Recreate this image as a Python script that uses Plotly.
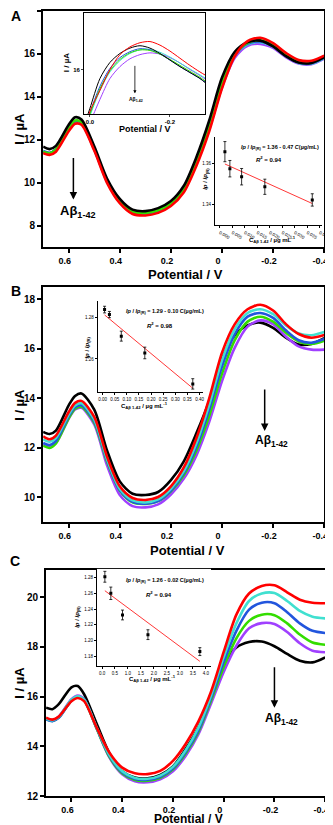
import plotly.graph_objects as go

# potentials (V) for the voltammograms
potential = [0.70, 0.675, 0.65, 0.60, 0.575, 0.55, 0.50, 0.45, 0.40, 0.35, 0.30, 0.25, 0.20,
             0.15, 0.10, 0.05, 0.00, -0.05, -0.10, -0.15, -0.20, -0.25, -0.30, -0.35, -0.40]

# panel A currents (uA)
a_black = [11.68, 11.57, 11.72, 12.7, 13.05, 12.95, 11.7, 10.2, 9.25, 8.75, 8.68, 8.82, 9.15,
           9.85, 11.2, 12.9, 14.9, 16.1, 16.55, 16.62, 16.35, 15.9, 15.6, 15.58, 15.85]
a_red = [11.38, 11.3, 11.45, 12.4, 12.75, 12.7, 11.5, 10.0, 9.05, 8.55, 8.48, 8.6, 8.92,
         9.55, 10.8, 12.4, 14.4, 15.9, 16.6, 16.75, 16.5, 16.05, 15.72, 15.68, 15.92]
a_green = [11.45, 11.38, 11.55, 12.55, 12.9, 12.83, 11.6, 10.12, 9.17, 8.65, 8.6, 8.72, 9.05,
           9.72, 11.0, 12.65, 14.65, 15.98, 16.52, 16.63, 16.4, 15.95, 15.63, 15.6, 15.86]
a_blue = [11.48, 11.4, 11.57, 12.52, 12.86, 12.8, 11.58, 10.1, 9.15, 8.63, 8.58, 8.7, 9.03,
          9.7, 10.98, 12.6, 14.6, 15.95, 16.48, 16.58, 16.36, 15.92, 15.6, 15.57, 15.83]
a_cyan = [11.46, 11.38, 11.55, 12.5, 12.84, 12.78, 11.56, 10.08, 9.13, 8.61, 8.56, 8.68, 9.01,
          9.68, 10.95, 12.56, 14.55, 15.92, 16.45, 16.55, 16.34, 15.9, 15.58, 15.55, 15.81]
a_purple = [11.42, 11.35, 11.5, 12.48, 12.82, 12.76, 11.55, 10.05, 9.1, 8.58, 8.53, 8.65, 8.97,
            9.62, 10.9, 12.5, 14.45, 15.82, 16.38, 16.47, 16.28, 15.85, 15.55, 15.52, 15.78]

# panel A zoomed inset
inset_potential = [0.01, 0.0, -0.025, -0.05, -0.075, -0.10, -0.125, -0.15, -0.175, -0.20,
                   -0.225, -0.25, -0.275, -0.29]
ia_black = [15.15, 15.35, 15.85, 16.12, 16.27, 16.36, 16.4, 16.36, 16.27, 16.16, 16.05, 15.95, 15.85, 15.77]
ia_red = [15.05, 15.3, 15.65, 16.0, 16.25, 16.38, 16.45, 16.47, 16.41, 16.31, 16.19, 16.07, 15.96, 15.9]
ia_green = [15.05, 15.25, 15.68, 15.98, 16.17, 16.28, 16.33, 16.32, 16.26, 16.17, 16.07, 15.97, 15.87, 15.8]
ia_blue = [15.08, 15.28, 15.72, 16.02, 16.2, 16.3, 16.35, 16.33, 16.26, 16.16, 16.05, 15.95, 15.85, 15.78]
ia_cyan = [15.02, 15.22, 15.65, 15.96, 16.15, 16.27, 16.33, 16.34, 16.29, 16.21, 16.11, 16.01, 15.91, 15.85]
ia_purple = [14.9, 15.1, 15.5, 15.85, 16.05, 16.18, 16.25, 16.28, 16.26, 16.2, 16.11, 16.0, 15.9, 15.83]

# panel B currents (uA)
b_black = [12.65, 12.56, 12.7, 13.72, 14.1, 14.2, 13.55, 11.9, 10.65, 10.15, 10.1, 10.22, 10.7,
           11.45, 12.6, 13.9, 15.6, 16.55, 16.95, 17.06, 16.85, 16.45, 16.18, 16.2, 16.43]
b_red = [12.47, 12.35, 12.5, 13.45, 13.82, 13.9, 13.25, 11.65, 10.45, 9.98, 9.9, 10.02, 10.45,
         11.2, 12.4, 14.0, 15.85, 17.0, 17.6, 17.78, 17.55, 17.0, 16.6, 16.45, 16.56]
b_cyan = [12.35, 12.25, 12.4, 13.35, 13.72, 13.8, 13.15, 11.55, 10.35, 9.88, 9.8, 9.92, 10.35,
          11.05, 12.2, 13.75, 15.55, 16.8, 17.45, 17.6, 17.4, 16.95, 16.62, 16.55, 16.68]
b_blue = [12.2, 12.12, 12.28, 13.28, 13.65, 13.72, 13.08, 11.5, 10.3, 9.82, 9.75, 9.86, 10.28,
          10.98, 12.05, 13.55, 15.3, 16.6, 17.3, 17.45, 17.25, 16.75, 16.35, 16.25, 16.4]
b_green = [12.09, 12.0, 12.18, 13.2, 13.58, 13.66, 13.02, 11.45, 10.28, 9.8, 9.74, 9.85, 10.25,
           10.9, 11.9, 13.3, 15.0, 16.35, 17.1, 17.3, 17.1, 16.65, 16.3, 16.2, 16.33]
b_purple = [12.15, 12.05, 12.2, 13.18, 13.55, 13.62, 12.95, 11.3, 10.1, 9.65, 9.6, 9.72, 10.12,
            10.75, 11.7, 13.05, 14.7, 16.05, 16.9, 17.15, 17.0, 16.5, 16.1, 15.97, 15.97]

# panel C currents (uA)
c_black = [15.56, 15.5, 15.7, 16.38, 16.43, 16.1, 14.9, 13.72, 13.0, 12.75, 12.72, 12.86, 13.2,
           13.9, 14.76, 16.05, 17.3, 17.98, 18.2, 18.22, 18.03, 17.72, 17.45, 17.38, 17.58]
c_red = [15.16, 15.08, 15.2, 15.82, 15.95, 15.82, 14.75, 13.75, 13.15, 12.92, 12.89, 13.02, 13.42,
         14.1, 15.0, 16.2, 17.8, 19.3, 20.15, 20.45, 20.48, 20.2, 19.9, 19.78, 19.76]
c_cyan = [15.12, 15.05, 15.18, 15.88, 16.02, 15.88, 14.75, 13.65, 13.0, 12.73, 12.7, 12.83, 13.18,
          13.85, 14.75, 16.05, 17.6, 18.95, 19.85, 20.15, 20.17, 19.85, 19.45, 19.22, 19.15]
c_blue = [15.09, 15.02, 15.15, 15.85, 16.0, 15.86, 14.72, 13.62, 12.96, 12.69, 12.66, 12.78, 13.12,
          13.78, 14.65, 15.95, 17.4, 18.65, 19.5, 19.78, 19.76, 19.4, 18.95, 18.65, 18.56]
c_green = [15.1, 15.03, 15.16, 15.86, 16.0, 15.86, 14.7, 13.58, 12.92, 12.65, 12.62, 12.74, 13.08,
           13.72, 14.58, 15.85, 17.2, 18.35, 19.05, 19.3, 19.28, 18.95, 18.5, 18.18, 18.09]
c_purple = [15.12, 15.06, 15.2, 15.9, 16.05, 15.9, 14.72, 13.55, 12.88, 12.6, 12.56, 12.68, 13.0,
            13.62, 14.48, 15.72, 17.0, 18.05, 18.75, 18.96, 18.92, 18.6, 18.15, 17.85, 17.79]

# calibration insets: concentration (ug/mL), Ip/Ip(R), error, fit (intercept, slope)
conc_a = [0.002, 0.004, 0.0087, 0.018, 0.037]
ratio_a = [1.3659, 1.3576, 1.3537, 1.3488, 1.3424]
err_a = [0.0049, 0.004, 0.004, 0.0037, 0.003]
fit_a = [1.361, -0.55]

conc_b = [0.008, 0.028, 0.077, 0.174, 0.372]
ratio_b = [1.2838, 1.2814, 1.271, 1.2629, 1.248]
err_b = [0.0016, 0.0015, 0.0024, 0.0028, 0.0025]
fit_b = [1.282, -0.097]

conc_c = [0.11, 0.34, 0.79, 1.77, 3.77]
ratio_c = [1.281, 1.26, 1.2325, 1.2075, 1.186]
err_c = [0.0069, 0.0079, 0.0062, 0.0062, 0.005]
fit_c = [1.266, -0.0245]

# main x tick labels (plain hyphen minus like the original)
x_ticks = [0.6, 0.4, 0.2, 0.0, -0.2, -0.4]
x_ticklabels = ['0.6', '0.4', '0.2', '0', '-0.2', '-0.4']

colors = {'black': '#000000', 'red': '#ff0000', 'cyan': '#40e0d0',
          'blue': '#2255dd', 'green': '#33dd00', 'purple': '#a040ff'}

W, H = 333, 825
FONT = 'Liberation Sans, Arial, sans-serif'


def px(x):
    return x / W


def py(y):
    return 1 - y / H


fig = go.Figure()


def add_curves(curves, xs, xa, ya, width):
    for name, ys in curves:
        fig.add_trace(go.Scatter(x=xs, y=ys, mode='lines', xaxis=xa, yaxis=ya,
                                 line=dict(color=colors[name], width=width, shape='spline', smoothing=0.8),
                                 showlegend=False, hoverinfo='skip'))


add_curves([('purple', a_purple), ('cyan', a_cyan), ('blue', a_blue), ('green', a_green),
            ('black', a_black), ('red', a_red)], potential, 'x', 'y', 2.6)
add_curves([('purple', ia_purple), ('cyan', ia_cyan), ('blue', ia_blue), ('green', ia_green),
            ('black', ia_black), ('red', ia_red)], inset_potential, 'x2', 'y2', 1)
add_curves([('black', b_black), ('purple', b_purple), ('green', b_green), ('blue', b_blue),
            ('cyan', b_cyan), ('red', b_red)], potential, 'x4', 'y4', 2.6)
add_curves([('black', c_black), ('purple', c_purple), ('green', c_green), ('blue', c_blue),
            ('cyan', c_cyan), ('red', c_red)], potential, 'x6', 'y6', 2.6)


def add_calib(conc, ratio, err, fit, xa, ya):
    line_x = [conc[0], conc[-1]]
    line_y = [fit[0] + fit[1] * c for c in line_x]
    fig.add_trace(go.Scatter(x=line_x, y=line_y, mode='lines', xaxis=xa, yaxis=ya,
                             line=dict(color='#ff2020', width=0.9), showlegend=False, hoverinfo='skip'))
    fig.add_trace(go.Scatter(x=conc, y=ratio, mode='markers', xaxis=xa, yaxis=ya,
                             marker=dict(color='black', size=3, symbol='square'),
                             error_y=dict(type='data', array=err, color='black', thickness=0.8, width=1.5),
                             showlegend=False, hoverinfo='skip'))


add_calib(conc_a, ratio_a, err_a, fit_a, 'x3', 'y3')
add_calib(conc_b, ratio_b, err_b, fit_b, 'x5', 'y5')
add_calib(conc_c, ratio_c, err_c, fit_c, 'x7', 'y7')

main_tick = dict(family=FONT, size=10, color='black', weight='bold')
xtick_font = dict(family=FONT, size=9, color='black', weight='bold')
small_tick = dict(family=FONT, size=4.5, color='black')


def main_axes(xd, yd, yrange, anchor_x, anchor_y):
    # axis is reversed, so a positive shift moves the labels to the left
    xa = dict(domain=xd, range=[0.7, -0.4], tickvals=x_ticks, ticktext=x_ticklabels, anchor=anchor_y,
              showline=True, mirror=True, linewidth=2, linecolor='black', ticks='outside',
              ticklen=4, tickwidth=1.5, tickcolor='black', showgrid=False, zeroline=False,
              tickfont=xtick_font, ticklabelshift=4, ticklabeloverflow='allow')
    ya = dict(domain=yd, range=yrange, dtick=2, anchor=anchor_x,
              showline=True, mirror=True, linewidth=2, linecolor='black', ticks='outside',
              ticklen=4, tickwidth=1.5, tickcolor='black', showgrid=False, zeroline=False,
              tickfont=main_tick)
    return xa, ya


def calib_axes(xd, yd, xrange, yrange, xdt, xfmt, ydt, anchor_x, anchor_y):
    xa = dict(domain=xd, range=xrange, dtick=xdt, tick0=0, tickformat=xfmt, anchor=anchor_y,
              showline=True, linewidth=1, linecolor='black', ticks='outside', ticklen=2,
              tickwidth=0.6, tickcolor='black', showgrid=False, zeroline=False, tickfont=small_tick)
    ya = dict(domain=yd, range=yrange, dtick=ydt, tick0=0, tickformat='.2f', anchor=anchor_x,
              showline=True, linewidth=1, linecolor='black', ticks='outside', ticklen=2,
              tickwidth=0.6, tickcolor='black', showgrid=False, zeroline=False, tickfont=small_tick)
    return xa, ya


xa1, ya1 = main_axes([px(36), px(324)], [py(241), py(3)], [7, 18], 'x', 'y')
xa4, ya4 = main_axes([px(36), px(324)], [py(518), py(281)], [9, 18.5], 'x4', 'y4')
xa6, ya6 = main_axes([px(39), px(325)], [py(794), py(566)], [12, 21.1], 'x6', 'y6')

xa2 = dict(domain=[px(78), px(202)], range=[0.0146, -0.288], tickvals=[0.0, -0.2], ticktext=['0.0', '-0.2'],
           anchor='y2', showline=True, mirror=True, linewidth=1, linecolor='black', ticks='outside',
           ticklen=2, tickwidth=0.7, showgrid=False, zeroline=False,
           tickfont=dict(family=FONT, size=6, color='black', weight='bold'))
ya2 = dict(domain=[py(107), py(5)], range=[15.25, 16.95], dtick=1, anchor='x2',
           showline=True, mirror=True, linewidth=1, linecolor='black', ticks='outside',
           ticklen=2, tickwidth=0.7, showgrid=False, zeroline=False,
           tickfont=dict(family=FONT, size=6, color='black', weight='bold'))

xa3, ya3 = calib_axes([px(212), px(322)], [py(219), py(130)], [-0.002, 0.041], [1.33, 1.373],
                      0.005, '.3f', 0.02, 'x3', 'y3')
xa5, ya5 = calib_axes([px(92), px(200)], [py(387), py(295)], [-0.02, 0.415], [1.244, 1.288],
                      0.05, '.2f', 0.02, 'x5', 'y5')
xa7, ya7 = calib_axes([px(91), px(208)], [py(663), py(565)], [-0.2, 4.2], [1.1675, 1.291],
                      0.5, '.1f', 0.02, 'x7', 'y7')

fig.update_layout(
    width=W, height=H, margin=dict(l=0, r=0, t=0, b=0),
    paper_bgcolor='white', plot_bgcolor='white', showlegend=False,
    xaxis=xa1, yaxis=ya1, xaxis2=xa2, yaxis2=ya2, xaxis3=xa3, yaxis3=ya3,
    xaxis4=xa4, yaxis4=ya4, xaxis5=xa5, yaxis5=ya5, xaxis6=xa6, yaxis6=ya6,
    xaxis7=xa7, yaxis7=ya7,
)

ann = []


def text(x, y, s, size, angle=0, bold=True):
    ann.append(dict(x=px(x), y=py(y), xref='paper', yref='paper', text=s, showarrow=False,
                    textangle=angle, xanchor='center', yanchor='middle',
                    font=dict(family=FONT, size=size, color='black', weight='bold' if bold else 'normal')))


def arrow(x, y0, y1, width=1.5, size=1):
    ann.append(dict(x=px(x), y=py(y1), xref='paper', yref='paper', ax=0, ay=-(y1 - y0),
                    text='', showarrow=True, arrowhead=2, arrowsize=size, arrowwidth=width,
                    arrowcolor='black'))


# panel letters
text(8, 8, 'A', 14)
text(8, 285, 'B', 14)
text(7, 557, 'C', 14)

# main axis titles
for yc in (122, 400, 680):
    text(11, yc, 'I / µA', 13, angle=-90)
text(182, 268, 'Potential / V', 13)
text(184, 546, 'Potential / V', 13)
text(185, 817, 'Potential / V', 12)

# analyte arrows
abeta = 'Aβ<sub>1-42</sub>'
arrow(67, 150, 193)
text(72, 205, abeta, 13)
arrow(263, 383, 426)
text(270, 436, abeta, 12)
arrow(273, 663, 705)
text(280, 716, abeta, 12)

# zoomed inset labels
text(60, 55, 'I / µA', 8, angle=-90)
text(140, 122, 'Potential / V', 9)
arrow(130, 57, 86, width=0.8, size=0.8)
text(131, 92, abeta, 5)

# calibration texts
ratio_lbl = '<i>Ip</i> / <i>Ip</i><sub>(R)</sub>'
conc_lbl = 'C<sub>Aβ 1-42</sub> / µg mL<sup>-1</sup>'
text(279, 141, ratio_lbl + ' = 1.36 - 0.47 <i>C</i>(µg/mL)', 5.5)
text(267, 152, '<i>R</i><sup>2</sup> = 0.94', 6)
text(271, 233, conc_lbl, 6)
text(203, 172, ratio_lbl, 6, angle=-90)

text(161, 306, ratio_lbl + ' = 1.29 - 0.10 C(µg/mL)', 5.5)
text(156, 319, '<i>R</i><sup>2</sup> = 0.98', 6)
text(140, 400, conc_lbl, 6)
text(81, 342, ratio_lbl, 6, angle=-90)

text(161, 577, ratio_lbl + ' = 1.26 - 0.02 C(µg/mL)', 5.5)
text(155, 590, '<i>R</i><sup>2</sup> = 0.94', 6)
text(148, 675, conc_lbl, 6)
text(71, 613, ratio_lbl, 6, angle=-90)

fig.update_layout(annotations=ann)

fig.write_html("out.html")
